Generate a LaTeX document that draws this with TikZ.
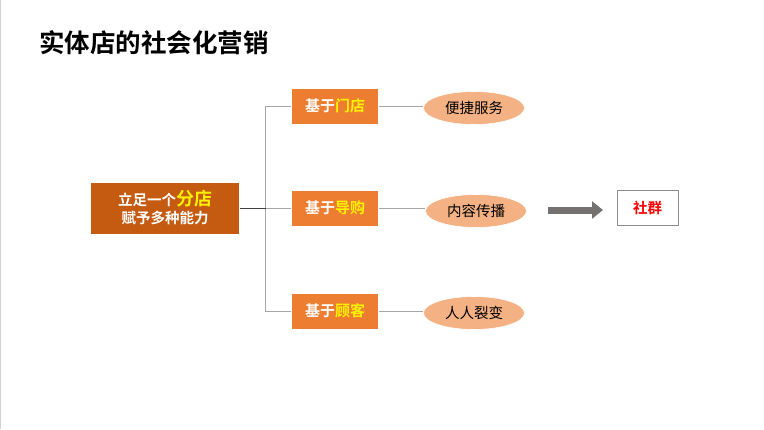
\documentclass[tikz,border=0pt]{standalone}
\usepackage{fontspec}
\setmainfont{Noto Sans CJK SC}
\newfontfamily\cjkb{Noto Sans CJK SC Bold}
\usetikzlibrary{shapes.geometric,arrows.meta}
\definecolor{darkor}{HTML}{C55A11}
\definecolor{midor}{HTML}{ED7D31}
\definecolor{lightor}{HTML}{F4B183}
\definecolor{linegray}{HTML}{A6A6A6}
\definecolor{arrgray}{HTML}{767171}
\tikzset{
  x=1pt, y=-1pt,
  basebox/.style={draw=white, line width=0.6pt, fill=midor, minimum width=87pt, minimum height=36pt, inner sep=0pt, text=white, font=\cjkb\fontsize{15}{16}\selectfont},
  oval/.style={ellipse, fill=lightor, draw=white, line width=0.6pt, minimum width=101pt, minimum height=33pt, inner sep=0pt, font=\fontsize{14.5}{15}\selectfont},
  branch/.style={draw=linegray, line width=1pt},
}
\begin{document}
\begin{tikzpicture}
\useasboundingbox (0,0) rectangle (764,429);
\fill[white] (0,0) rectangle (764,429);
\draw[draw=black!18, line width=1pt] (0.5,0) -- (0.5,429);
\node[anchor=west, font=\cjkb\fontsize{25.5}{27}\selectfont, inner sep=0pt] (title) at (39,43) {实体店的社会化营销};
% main box
\node[fill=darkor, draw=white, line width=0.6pt, minimum width=149pt, minimum height=52pt, inner sep=0pt, text=white, align=center] (main) at (165,208)
  {\cjkb\fontsize{14.5}{16}\selectfont 立足一个{\color{yellow}\fontsize{18}{18}\selectfont 分店}\\[3pt]\cjkb\fontsize{14.5}{16}\selectfont 赋予多种能力};
\coordinate (hub) at (265.5,208);
\coordinate (top) at (265.5,106);
\coordinate (bot) at (265.5,311);
\node[basebox] (b1) at (335,106) {基于{\color{yellow}门店}};
\node[basebox] (b2) at (335,208) {基于{\color{yellow}导购}};
\node[basebox] (b3) at (335,311) {基于{\color{yellow}顾客}};
\node[oval] (e1) at (474,108) {便捷服务};
\node[oval] (e2) at (476,211) {内容传播};
\node[oval] (e3) at (474,313) {人人裂变};
\draw[branch] (b1.west) -- (top) -- (bot) -- (b3.west);
\draw[branch] (hub) -- (b2.west);
\draw[draw=black!75, line width=1pt] (main.east) -- (hub);
\draw[branch] (b1.east) -- (e1.west |- b1.east);
\draw[branch] (b2.east) -- (e2.west |- b2.east);
\draw[branch] (b3.east) -- (e3.west |- b3.east);
\node[draw=black!45, line width=1pt, minimum width=61pt, minimum height=35pt, inner sep=0pt, text=red, font=\cjkb\fontsize{14.5}{16}\selectfont] (sq) at (647.5,207.5) {社群};
\coordinate (as) at (548,210);
\coordinate (ae) at (603,210);
\draw[arrgray, line width=7pt, -{Triangle[length=11pt,width=17pt]}] (as) -- (ae);
\end{tikzpicture}
\end{document}
